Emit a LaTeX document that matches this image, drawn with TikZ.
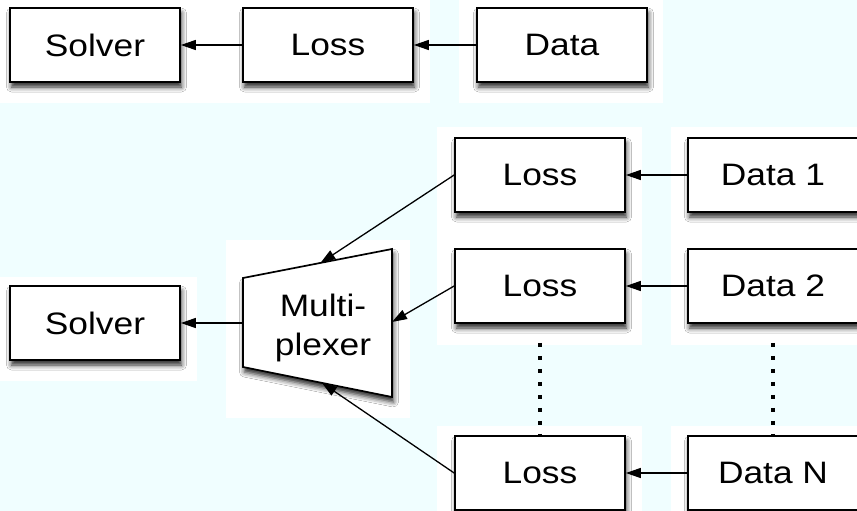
\documentclass[tikz,border=0pt]{standalone}
\usepackage{fontspec}
\setmainfont{Liberation Sans}[FakeStretch=1.14]
\usetikzlibrary{arrows.meta,shadows.blur,calc}
\definecolor{paleazure}{RGB}{240,254,255}
\begin{document}
\begin{tikzpicture}[x=1pt,y=-1pt,
  softshadow/.style={blur shadow={shadow xshift=1.5pt,shadow yshift=-5pt,shadow blur radius=5pt,shadow opacity=85}},
  box/.style={draw=black,line width=1.7pt,fill=white,minimum width=170pt,minimum height=74pt,
    inner sep=0pt,font=\fontsize{31}{36}\selectfont,softshadow},
  link/.style={line width=1.3pt,-{Triangle[length=15pt,width=10pt,fill=black]}},
  halo/.style={fill=white},
  dots/.style={line width=3.2pt,dash pattern=on 4pt off 9pt}]

% canvas and white panels behind the blocks
\fill[paleazure] (0,0) rectangle (857,511);
\useasboundingbox (0,0) rectangle (857,511);
\fill[halo] (0,0) rectangle (430,103);
\fill[halo] (459,0) rectangle (663,103);
\fill[halo] (437,127) rectangle (642,345);
\fill[halo] (671,127) rectangle (857,345);
\fill[halo] (437,426) rectangle (642,511);
\fill[halo] (671,426) rectangle (857,511);
\fill[halo] (226,240) rectangle (410,418);
\fill[halo] (0,277) rectangle (197,381);

% single-loss pipeline
\node[box] (solverA) at (95,45)  {Solver};
\node[box] (lossA)   at (328,45) {Loss};
\node[box] (dataA)   at (562,45) {Data};
\draw[link] (lossA) -- (solverA);
\draw[link] (dataA) -- (lossA);

% multi-loss pipeline
\node[box] (solverB) at (95,323)  {Solver};
\node[box] (loss1)   at (540,175) {Loss};
\node[box] (data1)   at (773,175) {Data 1};
\node[box] (loss2)   at (540,286) {Loss};
\node[box] (data2)   at (773,286) {Data 2};
\node[box] (lossN)   at (540,473) {Loss};
\node[box] (dataN)   at (773,473) {Data N};

% multiplexer block
\coordinate (mxa) at (243,278);
\coordinate (mxb) at (392,249);
\coordinate (mxc) at (392,397);
\coordinate (mxd) at (243,367);
\draw[line width=1.7pt,fill=white,softshadow] (mxa) -- (mxb) -- (mxc) -- (mxd) -- cycle;
\node[align=center,font=\fontsize{31}{39}\selectfont] (muxlabel) at (323,328) {Multi-\\plexer};
\coordinate (muxT) at ($(mxa)!0.52!(mxb)$);
\coordinate (muxR) at (392,322);
\coordinate (muxB) at ($(mxd)!0.53!(mxc)$);
\coordinate (muxL) at (243,323);

\draw[link] (data1) -- (loss1);
\draw[link] (data2) -- (loss2);
\draw[link] (dataN) -- (lossN);
\draw[link] (loss1.west) -- (muxT);
\draw[link] (loss2.west) -- (muxR);
\draw[link] (lossN.west) -- (muxB);
\draw[link] (muxL) -- (solverB);

% elided rows
\draw[dots] ([yshift=-19pt]loss2.south) -- (lossN.north);
\draw[dots] ([yshift=-19pt]data2.south) -- (dataN.north);
\end{tikzpicture}
\end{document}
